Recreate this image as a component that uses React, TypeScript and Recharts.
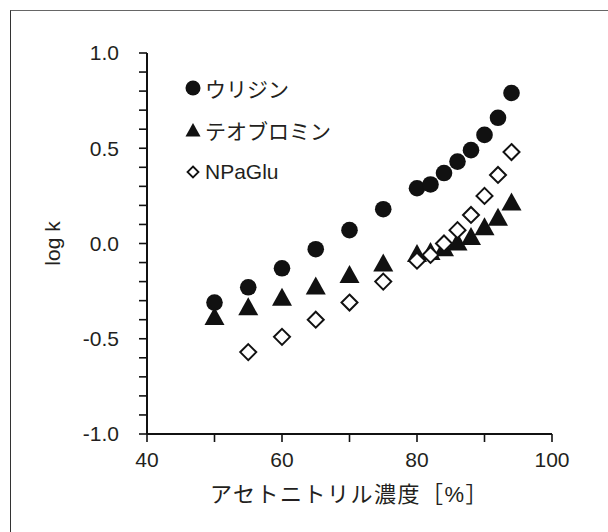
import React from 'react';
import { ScatterChart, Scatter, XAxis, YAxis, Legend } from 'recharts';

// Acetonitrile concentration [%] and log k values per compound
const concUridine = [50, 55, 60, 65, 70, 75, 80, 82, 84, 86, 88, 90, 92, 94];
const logkUridine = [-0.31, -0.23, -0.13, -0.03, 0.07, 0.18, 0.29, 0.31, 0.37, 0.43, 0.49, 0.57, 0.66, 0.79];

const concTheobromine = [50, 55, 60, 65, 70, 75, 80, 82, 84, 86, 88, 90, 92, 94];
const logkTheobromine = [-0.38, -0.33, -0.28, -0.22, -0.16, -0.10, -0.05, -0.04, -0.02, 0.01, 0.04, 0.09, 0.14, 0.22];

const concNPaGlu = [55, 60, 65, 70, 75, 80, 82, 84, 86, 88, 90, 92, 94];
const logkNPaGlu = [-0.57, -0.49, -0.40, -0.31, -0.20, -0.09, -0.06, 0.0, 0.07, 0.15, 0.25, 0.36, 0.48];

const seriesNames = ['ウリジン', 'テオブロミン', 'NPaGlu'];

const xTicks = [40, 50, 60, 70, 80, 90, 100];
const xTickLabels = [40, 60, 80, 100];
const yTicks = [-1.0, -0.9, -0.8, -0.7, -0.6, -0.5, -0.4, -0.3, -0.2, -0.1, 0, 0.1, 0.2, 0.3, 0.4, 0.5, 0.6, 0.7, 0.8, 0.9, 1.0];
const yTickLabels = [-1.0, -0.5, 0, 0.5, 1.0];

const xTitle = 'アセトニトリル濃度［%］';
const yTitle = 'log k';

const toPoints = (xs: number[], ys: number[]) => xs.map((x, i) => ({ x, y: ys[i] }));
const dataUridine = toPoints(concUridine, logkUridine);
const dataTheobromine = toPoints(concTheobromine, logkTheobromine);
const dataNPaGlu = toPoints(concNPaGlu, logkNPaGlu);

const FONT = "'Liberation Sans', Arial, 'Noto Sans CJK JP', sans-serif";
const INK = '#111';
const TEXT = '#231f20';

const CircleShape = (p: any) => <circle cx={p.cx} cy={p.cy} r={8.3} fill={INK} />;
const TriangleShape = (p: any) => (
  <path d={`M${p.cx},${p.cy - 9} L${p.cx + 10},${p.cy + 9} L${p.cx - 10},${p.cy + 9} Z`} fill={INK} />
);
const DiamondShape = (p: any) => (
  <path
    d={`M${p.cx},${p.cy - 8} L${p.cx + 8},${p.cy} L${p.cx},${p.cy + 8} L${p.cx - 8},${p.cy} Z`}
    fill="#fff"
    stroke={INK}
    strokeWidth={2}
  />
);

const legendIcon = (i: number) => {
  if (i === 0) return <circle cx={8} cy={8} r={7.5} fill={INK} />;
  if (i === 1) return <path d="M8,1 L15.5,14.5 L0.5,14.5 Z" fill={INK} />;
  return <path d="M8,2.5 L13.5,8 L8,13.5 L2.5,8 Z" fill="#fff" stroke={INK} strokeWidth={1.8} />;
};

const renderLegend = () => (
  <div style={{ fontFamily: FONT, fontSize: 21, color: TEXT }}>
    {seriesNames.map((name, i) => (
      <div key={name} style={{ display: 'flex', alignItems: 'center', height: 42 }}>
        <svg width={16} height={16} style={{ marginRight: 4 }}>
          {legendIcon(i)}
        </svg>
        <span style={{ whiteSpace: 'nowrap' }}>{name}</span>
      </div>
    ))}
  </div>
);

const XTitle = (props: any) => {
  const vb = props.viewBox;
  return (
    <text
      x={vb.x + vb.width / 2}
      y={vb.y + 60}
      textAnchor="middle"
      dominantBaseline="central"
      fontFamily={FONT}
      fontSize={22}
      letterSpacing={1.5}
      fill={TEXT}
    >
      {xTitle}
    </text>
  );
};

const YTitle = (props: any) => {
  const vb = props.viewBox;
  const cx = vb.x + 52;
  const cy = vb.y + vb.height / 2;
  return (
    <text
      x={cx}
      y={cy}
      transform={`rotate(-90, ${cx}, ${cy})`}
      textAnchor="middle"
      dominantBaseline="central"
      fontFamily={FONT}
      fontSize={21}
      fill={TEXT}
    >
      {yTitle}
    </text>
  );
};

export default function App() {
  return (
    <div
      style={{
        position: 'absolute',
        left: 0,
        top: 0,
        width: 608,
        height: 532,
        background: '#fff',
        overflow: 'hidden',
      }}
    >
      <div
        style={{
          position: 'absolute',
          left: 10,
          top: 10,
          width: 700,
          height: 700,
          borderTop: '1px solid #666',
          borderLeft: '1px solid #333',
        }}
      />
      <ScatterChart
        width={608}
        height={532}
        margin={{ top: 53, right: 56, bottom: 0, left: 0 }}
        style={{ position: 'absolute', left: 0, top: 0 }}
      >
        <XAxis
          type="number"
          dataKey="x"
          domain={[40, 100]}
          ticks={xTicks}
          interval={0}
          height={98}
          tickSize={8}
          tickMargin={10}
          tickFormatter={(v: number) => (xTickLabels.includes(v) ? String(v) : '')}
          tick={{ fontFamily: FONT, fontSize: 21, fill: TEXT }}
          axisLine={{ stroke: INK, strokeWidth: 2 }}
          tickLine={{ stroke: INK, strokeWidth: 1.6 }}
          label={<XTitle />}
        />
        <YAxis
          type="number"
          dataKey="y"
          domain={[-1, 1]}
          ticks={yTicks}
          interval={0}
          width={147}
          tickSize={8}
          tickMargin={20}
          tickFormatter={(v: number) =>
            yTickLabels.some((l) => Math.abs(l - v) < 1e-9) ? (Math.abs(v) < 1e-9 ? '0.0' : v.toFixed(1)) : ''
          }
          tick={{ fontFamily: FONT, fontSize: 21, fill: TEXT }}
          axisLine={{ stroke: INK, strokeWidth: 2 }}
          tickLine={{ stroke: INK, strokeWidth: 1.6 }}
          label={<YTitle />}
        />
        <Legend
          layout="vertical"
          align="center"
          verticalAlign="middle"
          content={renderLegend}
          wrapperStyle={{ left: 185, top: 67, width: 200 }}
        />
        <Scatter name={seriesNames[0]} data={dataUridine} shape={CircleShape} isAnimationActive={false} />
        <Scatter name={seriesNames[1]} data={dataTheobromine} shape={TriangleShape} isAnimationActive={false} />
        <Scatter name={seriesNames[2]} data={dataNPaGlu} shape={DiamondShape} isAnimationActive={false} />
      </ScatterChart>
    </div>
  );
}
